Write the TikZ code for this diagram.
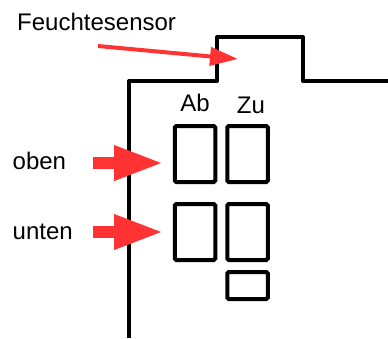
\documentclass[tikz,border=0pt]{standalone}
\usepackage{fontspec}
\setmainfont{Liberation Sans}
\usetikzlibrary{positioning,arrows.meta}
\definecolor{SignalRed}{HTML}{FF3333}

\tikzset{
  wall/.style={line width=4pt, line join=round},
  fach/.style={draw, line width=4pt, rounded corners=1.5pt, inner sep=0pt,
    minimum width=40.5pt, minimum height=56pt},
  beschr/.style={font=\fontsize{24}{28}\selectfont, inner sep=0pt},
  blockpfeil/.style={SignalRed, line width=12pt,
    -{Triangle[length=50pt, width=32pt]}},
  zeiger/.style={SignalRed, line width=4pt,
    -{Triangle[length=28pt, width=18pt]}}
}

\begin{document}
\begin{tikzpicture}[x=1pt, y=-1pt]
  \useasboundingbox (0,0) rectangle (388,338);

  % Umriss
  \draw[wall] (129,338) -- (129,81) -- (217,81) -- (217,37)
    -- (303,37) -- (303,81) -- (388,81);

  % Faecher
  \node[fach] (abO) at (195,154) {};
  \node[fach, right=8pt of abO] (zuO) {};
  \node[fach, below=18pt of abO] (abU) {};
  \node[fach, right=8pt of abU] (zuU) {};
  \node[fach, minimum height=27pt, below=8pt of zuU] (klein) {};

  \node[beschr, anchor=base] (ab) at (195,111) {Ab};
  \node[beschr, anchor=base] (zu) at (251,113) {Zu};

  % Beschriftungen links
  \node[beschr, anchor=base west] (sensor) at (17,30) {Feuchtesensor};
  \node[beschr, anchor=base west] (oben) at (12.5,169) {oben};
  \node[beschr, anchor=base west] (unten) at (12.5,239) {unten};

  % Pfeile
  \coordinate (sensorStart) at (98,46);
  \coordinate (sensorEnde) at (238,59);
  \coordinate (obenSpitze) at (164,163);
  \coordinate (untenSpitze) at (164,232);
  \draw[zeiger] (sensorStart) -- (sensorEnde);
  \draw[blockpfeil] (oben.east |- obenSpitze) ++(27,0) -- (obenSpitze);
  \draw[blockpfeil] (unten.east |- untenSpitze) ++(20,0) -- (untenSpitze);
\end{tikzpicture}
\end{document}
